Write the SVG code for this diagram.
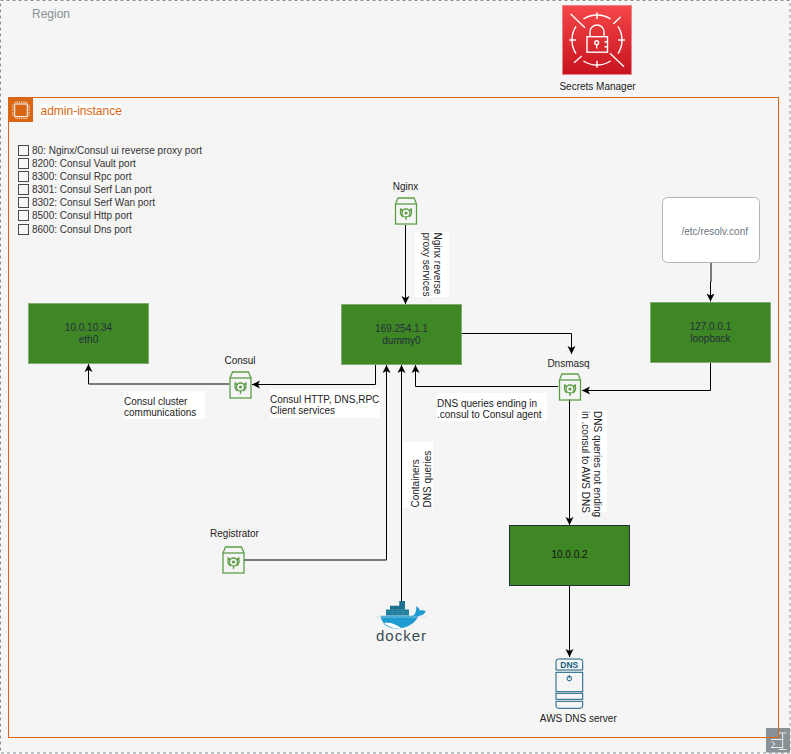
<svg xmlns="http://www.w3.org/2000/svg" xmlns:xlink="http://www.w3.org/1999/xlink" width="791" height="754" viewBox="0 0 791 754">
<style>
text{font-family:"Liberation Sans",Arial,sans-serif;font-size:10px;fill:#232F3E}
.lbl{fill:#222}
.port{fill:#333}
.mid{text-anchor:middle}
.g{fill:#3F8624;stroke:#82AD70;stroke-width:1}
.ln{fill:none;stroke:#000;stroke-width:1;marker-end:url(#arr)}
.wb{fill:#fff;stroke:none}
.cb{fill:#fff;fill-opacity:.25;stroke:#4a4a4a;stroke-width:1}
.ic{fill:none;stroke:#5E9E47;stroke-width:1.3}
.dn{fill:none;stroke:#14607F;stroke-width:1}
</style>
<defs>
<linearGradient id="red" x1="0" y1="0" x2="0" y2="1"><stop offset="0" stop-color="#F54749"/><stop offset="1" stop-color="#C7131F"/></linearGradient>
<marker id="arr" markerUnits="userSpaceOnUse" markerWidth="10" markerHeight="10" refX="8" refY="4.5" orient="auto"><path d="M0 0.5L8 4.5L0 8.5L2 4.5Z" fill="#000"/></marker>
<g id="container">
<path class="ic" d="M0.5 7L3 1H19L21.5 7"/>
<rect class="ic" x="0.5" y="7" width="21" height="20"/>
<circle class="ic" cx="11" cy="16" r="4"/>
<circle cx="11" cy="16" r="1.6" fill="#5E9E47"/>
<path class="ic" d="M5 11.5L8 13.5M17 11.5L14 13.5M11 20V23M6 12a7 7 0 0 0 2 8M16 12a7 7 0 0 1-2 8"/>
</g>
</defs>
<g id="region">
<rect x="0.5" y="0.5" width="789.5" height="752.5" fill="#F5F5F5" stroke="#879196" stroke-dasharray="3 3"/>
<text x="32" y="18" style="font-size:12px;fill:#879196">Region</text>
<rect x="766" y="728" width="24" height="24.500" fill="#879196"/>
<path d="M778.500 733H786.500M782.700 733V749.500M778.500 749.500H786.500M771 739.500H782.700M771 747.500H782.700M771.500 741.500L775 744L771.500 747" fill="none" stroke="#F5F5F5" stroke-width="0.900"/>
</g>
<g id="secrets-manager">
<rect x="562.500" y="5.500" width="69" height="69" fill="url(#red)" stroke="#E8848B"/>
<g fill="none" stroke="#fff" stroke-width="1.400">
<path d="M583.400 19A25 25 0 0 1 610.600 19M618 26.400A25 25 0 0 1 618 53.600M610.600 61A25 25 0 0 1 583.400 61M576 53.600A25 25 0 0 1 576 26.400"/>
<path d="M570.700 14L585 27.700M610 53.300L624 66.700M613.300 24L620.700 16.700M574 62.700L581.700 56M597 12.300V19M597 60.700V67.700M569.300 40H576M618.300 40H625"/>
<rect x="587" y="36.700" width="20.500" height="15.500"/>
<path d="M590 36.700V32A7 7 0 0 1 604 32V36.700"/>
<circle cx="596.700" cy="42.700" r="1.900"/>
<path d="M596.700 44.500V48.500M604.500 41.700H607.500M604.500 46.700H607.500"/>
</g>
<text class="lbl mid" x="597.500" y="89.500">Secrets Manager</text>
</g>
<g id="admin-instance">
<rect x="8.500" y="97.500" width="770" height="640" fill="none" stroke="#D86613"/>
<rect x="8" y="97" width="25" height="25" fill="#D86613"/>
<rect x="14.700" y="104" width="12.600" height="12.600" fill="none" stroke="#fff" stroke-width="1"/>
<path d="M15.500 102.200H27M15.500 118.400H27M12.900 104.800V116M29.100 104.800V116" fill="none" stroke="#fff" stroke-width="1.200" stroke-dasharray="0.800 1"/>
<rect x="40" y="104" width="81" height="14" fill="#fff"/>
<text x="40.500" y="115" style="font-size:12px;fill:#D86613">admin-instance</text>
</g>
<g id="ports">
<rect class="cb" x="18.500" y="145.500" width="10" height="10"/><text class="port" x="32" y="154">80: Nginx/Consul ui reverse proxy port</text>
<rect class="cb" x="18.500" y="158.500" width="10" height="10"/><text class="port" x="32" y="167">8200: Consul Vault port</text>
<rect class="cb" x="18.500" y="171.500" width="10" height="10"/><text class="port" x="32" y="180">8300: Consul Rpc port</text>
<rect class="cb" x="18.500" y="184.500" width="10" height="10"/><text class="port" x="32" y="193">8301: Consul Serf Lan port</text>
<rect class="cb" x="18.500" y="197.500" width="10" height="10"/><text class="port" x="32" y="206">8302: Consul Serf Wan port</text>
<rect class="cb" x="18.500" y="210.500" width="10" height="10"/><text class="port" x="32" y="219">8500: Consul Http port</text>
<rect class="cb" x="18.500" y="224.500" width="10" height="10"/><text class="port" x="32" y="233">8600: Consul Dns port</text>
</g>
<g id="connectors">
<path class="ln" d="M405.500 225V304"/>
<path class="ln" d="M375.500 364.500V384.500H252"/>
<path class="ln" d="M229 384H88.500V364"/>
<path class="ln" d="M244 560H386.500V365"/>
<path class="ln" d="M401.500 601V365"/>
<path class="ln" d="M558 386.500H415.500V365"/>
<path class="ln" d="M461.500 333.500H571.500V354"/>
<path class="ln" d="M710.500 362.500V390.500H582"/>
<path class="ln" d="M569.500 399.500V525"/>
<path class="ln" d="M569.500 585.500V657"/>
<path class="ln" d="M711 262.500V282H710.500V301.500"/>
</g>
<g id="connector-labels">
<rect class="wb" x="415" y="232" width="34" height="65"/>
<text class="lbl" transform="translate(434 232.500) rotate(90)">Nginx reverse</text>
<text class="lbl" transform="translate(423 232.500) rotate(90)">proxy services</text>
<rect class="wb" x="124" y="391" width="81" height="28"/>
<text class="lbl" x="124" y="405">Consul cluster</text>
<text class="lbl" x="124" y="416">communications</text>
<rect class="wb" x="270" y="389" width="110" height="29"/>
<text class="lbl" x="270" y="403">Consul HTTP, DNS,RPC</text>
<text class="lbl" x="270" y="414">Client services</text>
<rect class="wb" x="437" y="393" width="110" height="28"/>
<text class="lbl" x="437" y="407">DNS queries ending in</text>
<text class="lbl" x="437" y="418">.consul to Consul agent</text>
<rect class="wb" x="403" y="442" width="30" height="66"/>
<text class="lbl" transform="translate(419 507.500) rotate(-90)">Containers</text>
<text class="lbl" transform="translate(430.500 507.500) rotate(-90)">DNS queries</text>
<rect class="wb" x="577" y="410" width="30" height="102"/>
<text class="lbl" transform="translate(593.500 411) rotate(90)">DNS queries not ending</text>
<text class="lbl" transform="translate(582 411) rotate(90)">in .consul to AWS DNS</text>
</g>
<g id="eth0">
<rect class="g" x="28.500" y="303.500" width="120" height="60"/>
<text class="mid" x="88.500" y="331">10.0.10.34</text>
<text class="mid" x="88.500" y="342.500">eth0</text>
</g>
<g id="dummy0">
<rect class="g" x="341.500" y="304.500" width="120" height="60"/>
<text class="mid" x="401.500" y="332">169.254.1.1</text>
<text class="mid" x="401.500" y="343.500">dummy0</text>
</g>
<g id="loopback">
<rect class="g" x="650.500" y="302.500" width="120" height="60"/>
<text class="mid" x="710.500" y="330">127.0.0.1</text>
<text class="mid" x="710.500" y="342">loopback</text>
</g>
<g id="gateway">
<rect x="509.500" y="525.500" width="120" height="60" fill="#3F8624" stroke="#232F3E"/>
<text class="mid" x="569.500" y="558" style="fill:#111">10.0.0.2</text>
</g>
<g id="resolv">
<rect x="662.500" y="197.500" width="97" height="65" rx="5" fill="#fff" stroke="#B5B5B5"/>
<text x="681.500" y="235" style="fill:#6B7680">/etc/resolv.conf</text>
</g>
<g id="nginx">
<text class="lbl mid" x="405.500" y="190">Nginx</text>
<use xlink:href="#container" href="#container" x="395" y="197"/>
</g>
<g id="consul">
<text class="lbl mid" x="240" y="364">Consul</text>
<use xlink:href="#container" href="#container" x="229.500" y="371"/>
</g>
<g id="dnsmasq">
<text class="lbl mid" x="568.500" y="367">Dnsmasq</text>
<use xlink:href="#container" href="#container" x="559" y="373"/>
</g>
<g id="registrator">
<text class="lbl mid" x="234.500" y="537">Registrator</text>
<use xlink:href="#container" href="#container" x="222.500" y="546"/>
</g>
<g id="docker">
<path d="M386 609.500h23v6h-23z" fill="#1F7A99"/>
<path d="M390 605.700h15v4h-15zM399.300 601h5.700v5h-5.700z" fill="#1B6F8C"/>
<path d="M386 611.500h23M386 613.500h23M393 606v9M398 606v9M403 602v13" stroke="#3FA0BF" stroke-width="0.400" fill="none"/>
<path d="M380.500 615.700H412C414.500 615.700 416 613 416.500 606C418.500 607.500 419.500 609 420 610.500C422 610 424 610.300 425.700 611C424.500 614.500 421.500 615.700 418.500 616C415 624 406 628.500 396 628.500C387 628.500 381.500 623 380.500 615.700Z" fill="#1E9BD0"/>
<path d="M384 623C390 622 396 624 401 628C394 629 388 627 384 623Z" fill="#fff"/>
<path d="M376 617H427" stroke="#C8DDE5" stroke-width="0.600"/>
<text x="376" y="641" style="font-size:15px;fill:#394D54;letter-spacing:1px">docker</text>
</g>
<g id="aws-dns">
<path class="dn" d="M556 670V661.500Q556 659 558.500 659H580Q582.700 659 582.700 661.500V670Z"/>
<text class="mid" x="569.300" y="668" style="font-size:8.500px;font-weight:bold;fill:#14607F">DNS</text>
<rect class="dn" x="556" y="672.300" width="26.700" height="19.400"/>
<circle class="dn" cx="569.300" cy="678.500" r="2.300"/>
<path class="dn" d="M569.300 675.500V678.500"/>
<rect class="dn" x="556" y="693.300" width="26.700" height="6"/>
<path class="dn" d="M556 701.300H582.700V706Q582.700 708.300 580 708.300H558.500Q556 708.300 556 706Z"/>
<text class="lbl mid" x="578.300" y="722">AWS DNS server</text>
</g>
</svg>
